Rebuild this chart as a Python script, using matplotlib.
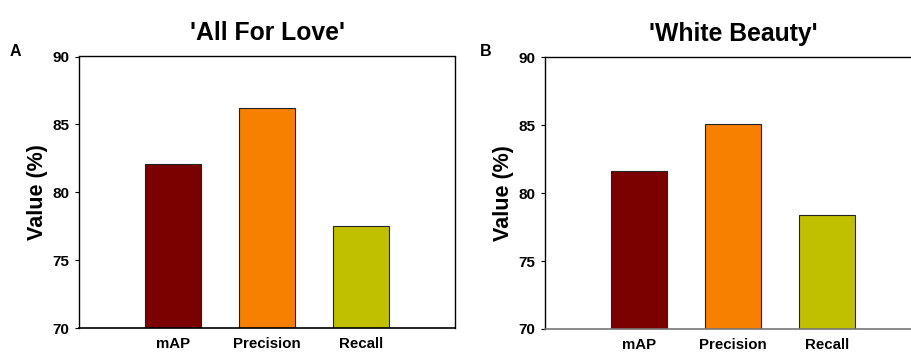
import matplotlib
matplotlib.use("Agg")
import matplotlib.pyplot as plt

plt.rcParams['font.family'] = ['Liberation Sans', 'DejaVu Sans']
plt.rcParams['font.weight'] = 'bold'

categories = ["mAP", "Precision", "Recall"]
all_for_love = [82.1, 86.2, 77.5]
white_beauty = [81.6, 85.1, 78.4]
bar_colors = ["#7b0000", "#f88000", "#c0c000"]
yticks = [70, 75, 80, 85, 90]

W, H = 911, 352
fig = plt.figure(figsize=(W / 100, H / 100), dpi=100)


def panel(left_px, top_px, bottom_px, values, title, letter, letter_x, bottom_color):
    width_px = 376
    ax = fig.add_axes([left_px / W, 1 - bottom_px / H, width_px / W, (bottom_px - top_px) / H])
    x = [1, 2, 3]
    ax.bar(x, [v - 70 for v in values], bottom=70, width=0.6, color=bar_colors,
           edgecolor="#222222", linewidth=0.8, zorder=2)
    ax.set_xlim(0, 4)
    ax.set_ylim(70, 90)
    ax.set_yticks(yticks)
    ax.set_yticklabels([str(t) for t in yticks], fontsize=11, fontweight='bold')
    ax.set_xticks(x)
    ax.set_xticklabels(categories, fontsize=10.8, fontweight='bold')
    ax.tick_params(axis='y', direction='out', length=3, width=0.8, pad=4)
    ax.tick_params(axis='x', length=0, pad=6.5)
    for s in ax.spines.values():
        s.set_linewidth(1.0)
        s.set_color('black')
    ax.spines['bottom'].set_color(bottom_color)
    ax.spines['bottom'].set_linewidth(1.2)
    ax.set_ylabel("Value (%)", fontsize=15.5, fontweight='bold', labelpad=3)
    ax.set_title(title, fontsize=17.8, fontweight='bold', pad=12)
    fig.text(letter_x / W, 1 - 52 / H, letter, fontsize=11.5, fontweight='bold',
             ha='left', va='center')
    return ax


panel(79, 56.5, 328, all_for_love, "'All For Love'", "A", 10, "black")
panel(545, 57.3, 329, white_beauty, "'White Beauty'", "B", 480, "#777777")

fig.savefig("out.png", dpi=100)
